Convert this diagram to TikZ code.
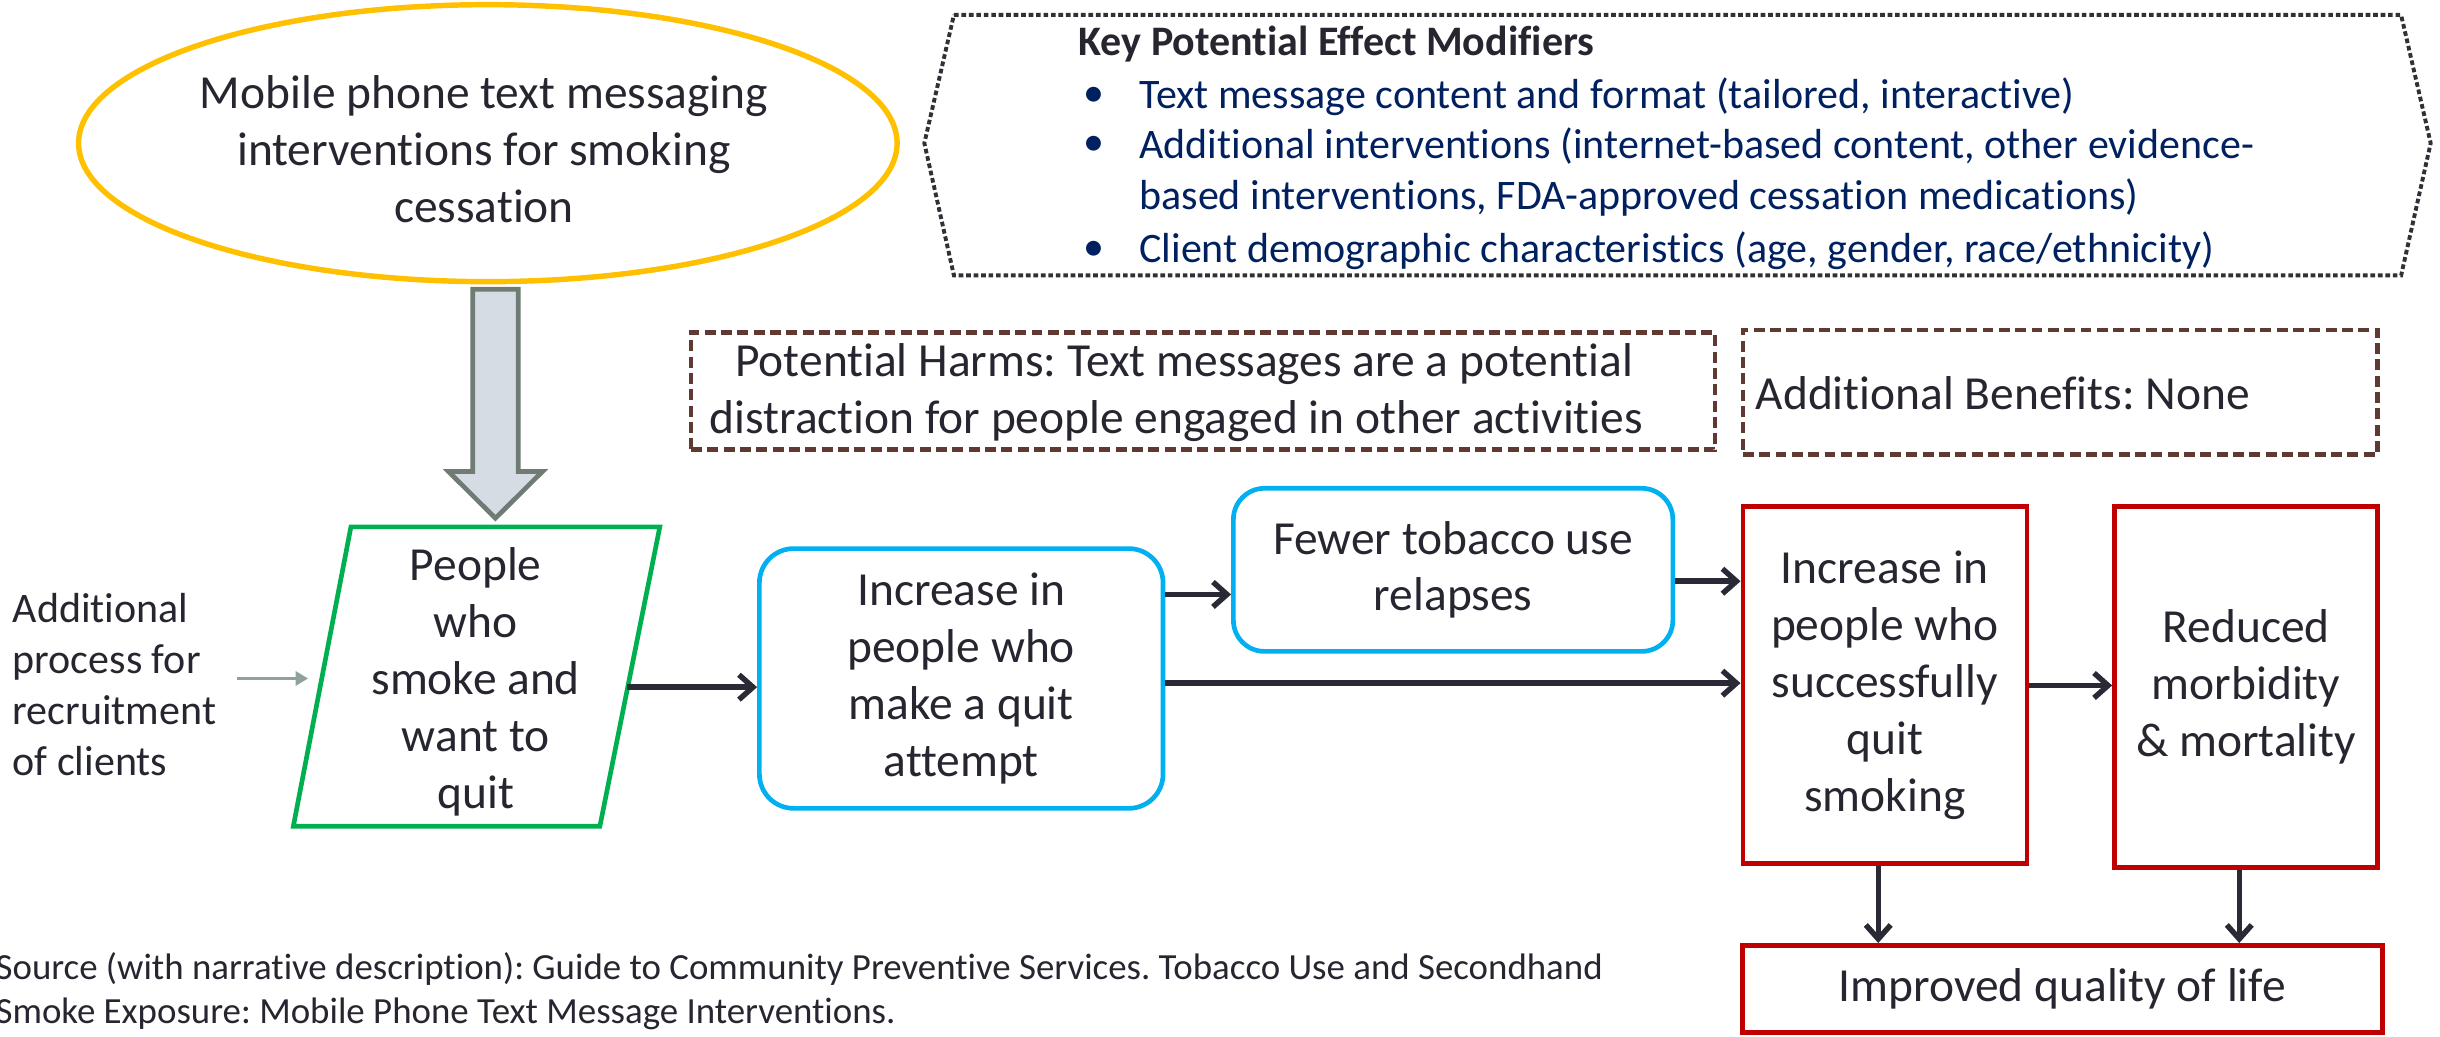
\documentclass[tikz,border=0pt]{standalone}
\usepackage{fontspec}
\setmainfont{Carlito}[Ligatures=NoCommon]
\usetikzlibrary{arrows.meta,shapes.geometric,calc}
\definecolor{txt}{HTML}{262630}
\definecolor{navy}{HTML}{002060}
\definecolor{gold}{HTML}{FFC000}
\definecolor{grn}{HTML}{00B050}
\definecolor{sky}{HTML}{00B0F0}
\definecolor{red}{HTML}{C00000}
\definecolor{brn}{HTML}{603A32}
\definecolor{dots}{HTML}{303036}
\definecolor{arrfill}{HTML}{D6DCE4}
\definecolor{arrline}{HTML}{6F7B73}
\definecolor{garrow}{HTML}{8FA39A}
\definecolor{arrc}{HTML}{2A2A36}
\frenchspacing
\begin{document}
\begin{tikzpicture}[x=1pt,y=-1pt,
  main/.style={text=txt,font=\fontsize{30.5}{36.6}\selectfont,align=center,inner sep=0pt},
  keytxt/.style={text=navy,font=\fontsize{27}{33}\selectfont,inner sep=0pt,anchor=west},
  keyhead/.style={text=txt,font=\bfseries\fontsize{27}{33}\selectfont,inner sep=0pt,anchor=west},
  side/.style={text=txt,font=\fontsize{27}{32.7}\selectfont,align=left,inner sep=0pt,anchor=west},
  src/.style={text=txt,font=\fontsize{23.7}{28}\selectfont,align=left,inner sep=0pt,anchor=west},
  bluebox/.style={draw=sky,line width=3pt,rounded corners=22pt,main},
  redbox/.style={draw=red,line width=3pt,main},
  harmbox/.style={draw=brn,line width=3pt,dash pattern=on 7pt off 3.5pt,inner sep=0pt},
  arr/.style={draw=arrc,line width=3.5pt,-{Straight Barb[length=9pt,width=16pt,line width=3.5pt]}},
  garr/.style={draw=garrow,line width=2pt,-{Triangle[length=8pt,width=9pt]}}
]
\useasboundingbox (0,0) rectangle (1568,666);

% ellipse
\node[draw=gold,line width=3.5pt,ellipse,minimum width=526pt,minimum height=178pt,inner sep=0pt] (ell) at (313.5,92) {};
\node[main] (elltxt) at (311,96) {Mobile phone text messaging\\interventions for smoking\\cessation};

% block arrow
\draw[line width=3pt,draw=arrline,fill=arrfill,line join=miter]
  (303.8,185.9) -- (333,185.9) -- (333,303) -- (348.6,303) -- (318.4,333) -- (288.2,303) -- (303.8,303) -- cycle;

% key modifiers box
\draw[draw=dots,line width=2.5pt,dash pattern=on 3pt off 1.8pt]
  (613,9.6) -- (1543,9.6) -- (1562,92) -- (1543,177) -- (613,177) -- (594,92) -- cycle;
\node[keyhead] (kh) at (693,28) {Key Potential Effect Modifiers};
\node[keytxt] (b1) at (696,62) {\textbullet};
\node[keytxt] (k1) at (732,62) {Text message content and format (tailored, interactive)};
\node[keytxt] (b2) at (696,94) {\textbullet};
\node[keytxt] (k2) at (732,94) {Additional interventions (internet-based content, other evidence-};
\node[keytxt] (k2b) at (732,127) {based interventions, FDA-approved cessation medications)};
\node[keytxt] (b3) at (696,161) {\textbullet};
\node[keytxt] (k3) at (732,161) {Client demographic characteristics (age, gender, race/ethnicity)};

% harms / benefits
\node[harmbox,minimum width=658pt,minimum height=75.4pt] (harms) at (773,251.3) {};
\node[main] (harmstxt) at (756,252) {\hspace*{10pt}Potential Harms: Text messages are a potential\\distraction for people engaged in other activities};
\node[harmbox,minimum width=408pt,minimum height=80pt] (ben) at (1324,252) {};
\node[main,anchor=west] (bentxt) at (1128,253) {Additional Benefits: None};

% left text
\node[side] (addl) at (8,440) {Additional\\process for\\recruitment\\of clients};

% parallelogram
\draw[draw=grn,line width=3pt,line join=miter] (225.5,338.6) -- (424,338.6) -- (385.5,531) -- (188.5,531) -- cycle;
\node[main] (people) at (305.7,438) {People\\who\\smoke and\\want to\\quit};

% boxes
\node[bluebox,minimum width=259.4pt,minimum height=166.9pt] (box2) at (617.7,436) {Increase in\\people who\\make a quit\\attempt};
\node[bluebox,rounded corners=20pt,minimum width=282.4pt,minimum height=104.8pt] (fewer) at (933.8,366.2) {Fewer tobacco use\\relapses};
\node[redbox,minimum width=182.5pt,minimum height=229.1pt] (inc) at (1211.25,440.25) {Increase in\\people who\\successfully\\quit\\smoking};
\node[redbox,minimum width=169.2pt,minimum height=231.8pt] (red) at (1443.4,441.6) {Reduced\\morbidity\\\& mortality};
\node[redbox,minimum width=411.4pt,minimum height=56pt] (imp) at (1325.3,635.5) {Improved quality of life};

% source
\node[src] (source) at (-3,637) {Source (with narrative description): Guide to Community Preventive Services. Tobacco Use and Secondhand\\Smoke Exposure: Mobile Phone Text Message Interventions.};

% connectors
\coordinate (ga) at (152,436);
\coordinate (gb) at (198,436);
\draw[garr] (ga) -- (gb);
\coordinate (pR) at (403,441.6);
\draw[arr] (pR) -- (box2.west |- pR);
\coordinate (l1) at (0,382);
\draw[arr] (box2.east |- l1) -- (fewer.west |- l1);
\coordinate (l2) at (0,373.5);
\draw[arr] (fewer.east |- l2) -- (inc.west |- l2);
\coordinate (l3) at (0,439);
\draw[arr] (box2.east |- l3) -- (inc.west |- l3);
\coordinate (l4) at (0,440.5);
\draw[arr] (inc.east |- l4) -- (red.west |- l4);
\coordinate (c1) at (1207,0);
\draw[arr] (inc.south -| c1) -- (imp.north -| c1);
\coordinate (c2) at (1439,0);
\draw[arr] (red.south -| c2) -- (imp.north -| c2);
\end{tikzpicture}
\end{document}
